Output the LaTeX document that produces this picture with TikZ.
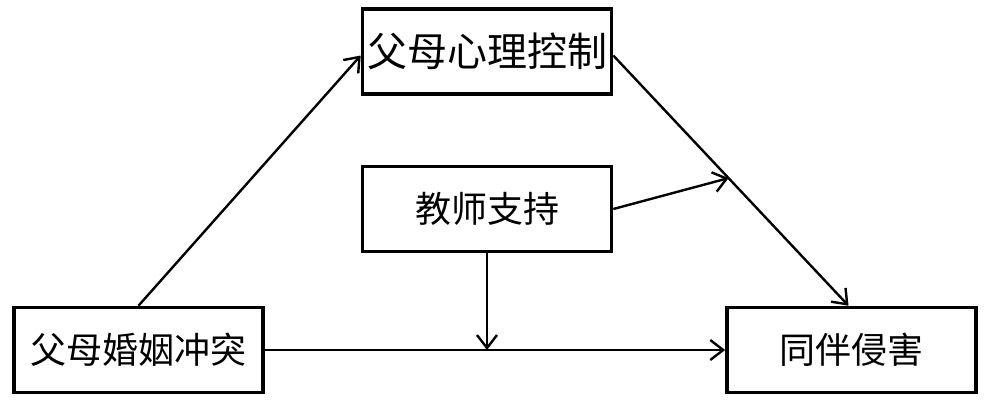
\documentclass[tikz,border=0pt]{standalone}
\usepackage{fontspec}
\newfontfamily\cjk{Noto Sans CJK SC}
\usetikzlibrary{arrows.meta}

\begin{document}
\begin{tikzpicture}[x=1pt,y=-1pt,
		box/.style={draw, line width=3.6pt, minimum width=249pt, minimum height=85pt, inner sep=0pt, font=\cjk\fontsize{36}{36}\selectfont},
		arr/.style={line width=2.4pt, -{Straight Barb[length=13pt,width=20pt,line width=2.4pt]}}]
			\useasboundingbox (0,0) rectangle (984,405);
			\node[box, font=\cjk\fontsize{40}{40}\selectfont] (ctrl) at (487,51.5) {父母心理控制};
			\node[box] (support) at (487,209) {教师支持};
			\node[box] (conflict) at (138.5,350) {父母婚姻冲突};
			\node[box] (victim) at (851.5,350) {同伴侵害};
			\draw[arr] (conflict.north) -- ([yshift=-4pt]ctrl.west);
			\draw[arr] ([yshift=-4pt]ctrl.east) -- coordinate[pos=0.49] (mid) ([xshift=-3pt]victim.north);
			\draw[arr] (support.east) -- (mid);
			\draw[arr] (conflict.east) -- (victim.west);
			\draw[arr] (support.south) -- (support.south |- conflict.east);
		\end{tikzpicture}
\end{document}
